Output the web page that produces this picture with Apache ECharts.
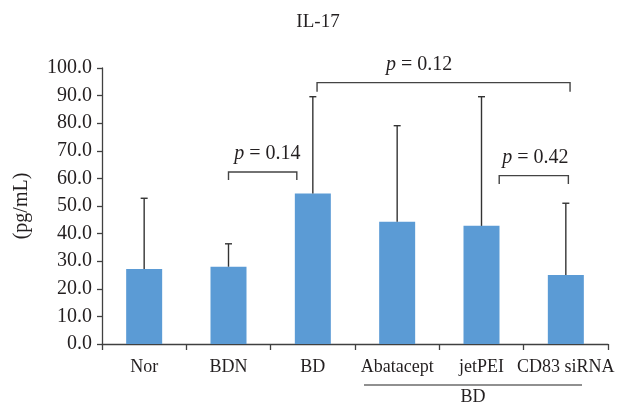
<!DOCTYPE html>
<html><head><meta charset="utf-8">
<script src="https://cdn.jsdelivr.net/npm/echarts@6/dist/echarts.min.js"></script>
<style>html,body{margin:0;padding:0;background:#fff}#c{width:636px;height:404px}</style>
</head><body><div id="c"></div>
<script>
const categories = ['Nor', 'BDN', 'BD', 'Abatacept', 'jetPEI', 'CD83 siRNA'];
const means = [27.2, 28.0, 54.5, 44.3, 42.8, 25.0];
const errorTops = [52.8, 36.3, 89.6, 79.1, 89.6, 51.0];
const yTicks = [0, 10, 20, 30, 40, 50, 60, 70, 80, 90, 100];
// significance brackets (x in category-index units)
const bracketStart = [1.0, 2.05, 4.21];
const bracketEnd = [1.81, 5.05, 5.03];
const bracketTop = [62.3, 94.7, 61.0];
const bracketLeg = [59.4, 91.4, 58.0];
const bracketLabelX = [1.46, 3.26, 4.64];
const bracketLabels = ['0.14', '0.12', '0.42'];
const groupLabel = 'BD';

const FONT = '"Liberation Serif", "DejaVu Serif", serif';
const AX = '#404040';
const TXT = '#231f20';
const chart = echarts.init(document.getElementById('c'), null, {renderer: 'canvas'});

const errData = categories.map((c, i) => [i, means[i], errorTops[i]]);
const brData = bracketStart.map((s, i) => [s, bracketEnd[i], bracketTop[i], bracketLeg[i], bracketLabelX[i], i]);

chart.setOption({
  animation: false,
  backgroundColor: '#fff',
  title: {text: 'IL-17', left: 'center', top: 8,
    textStyle: {fontFamily: FONT, fontWeight: 'normal', fontSize: 19, color: TXT}},
  grid: {left: 102, right: 28, top: 68, bottom: 60},
  xAxis: [{
    type: 'category', data: categories,
    axisLine: {lineStyle: {color: AX, width: 1.3}},
    axisTick: {show: true, length: 6, lineStyle: {color: AX, width: 1.3}},
    axisLabel: {fontFamily: FONT, fontSize: 18, color: TXT, margin: 14, interval: 0}
  }, {
    type: 'value', min: -0.5, max: 5.5, show: false
  }],
  yAxis: {
    type: 'value', min: yTicks[0], max: yTicks[yTicks.length - 1], interval: 10,
    name: '(pg/mL)', nameLocation: 'middle', nameGap: 70, nameRotate: 90,
    nameTextStyle: {fontFamily: FONT, fontSize: 20, color: TXT},
    axisLine: {show: true, onZero: false, lineStyle: {color: AX, width: 1.3}},
    axisTick: {show: true, length: 5, lineStyle: {color: AX, width: 1.3}},
    splitLine: {show: false},
    axisLabel: {fontFamily: FONT, fontSize: 20, color: TXT, margin: 10,
      formatter: v => v.toFixed(1)}
  },
  series: [{
    type: 'bar', data: means, barWidth: 36,
    itemStyle: {color: '#5B9BD5'}
  }, {
    type: 'custom', data: errData, z: 5,
    renderItem: (params, api) => {
      const x = api.coord([api.value(0), api.value(1)]);
      const t = api.coord([api.value(0), api.value(2)]);
      const st = {stroke: '#333', lineWidth: 1.4};
      return {type: 'group', children: [
        {type: 'line', shape: {x1: x[0], y1: x[1], x2: t[0], y2: t[1]}, style: st},
        {type: 'line', shape: {x1: t[0] - 3.5, y1: t[1], x2: t[0] + 3.5, y2: t[1]}, style: st}
      ]};
    }
  }, {
    type: 'custom', data: brData, xAxisIndex: 1, z: 5,
    renderItem: (params, api) => {
      const a = api.coord([api.value(0), api.value(2)]);
      const b = api.coord([api.value(1), api.value(2)]);
      const a2 = api.coord([api.value(0), api.value(3)]);
      const lx = api.coord([api.value(4), api.value(2)]);
      const st = {stroke: '#444', lineWidth: 1.4, fill: null};
      return {type: 'group', children: [
        {type: 'polyline', shape: {points: [[a[0], a2[1]], [a[0], a[1]], [b[0], b[1]], [b[0], a2[1]]]}, style: st},
        {type: 'text', x: lx[0], y: a[1] - 8, style: {
          text: '{i|p} = ' + bracketLabels[api.value(5)],
          rich: {i: {fontStyle: 'italic', fontFamily: FONT, fontSize: 20, fill: TXT}},
          fontFamily: FONT, fontSize: 20, fill: TXT, align: 'center', verticalAlign: 'bottom'}}
      ]};
    }
  }],
  graphic: [
    {type: 'line', shape: {x1: 364, y1: 385, x2: 582, y2: 385}, style: {stroke: '#222', lineWidth: 1.2}},
    {type: 'text', x: 473, y: 397, style: {text: groupLabel, fontFamily: FONT, fontSize: 18, fill: TXT, align: 'center', verticalAlign: 'middle'}}
  ]
});
</script></body></html>
